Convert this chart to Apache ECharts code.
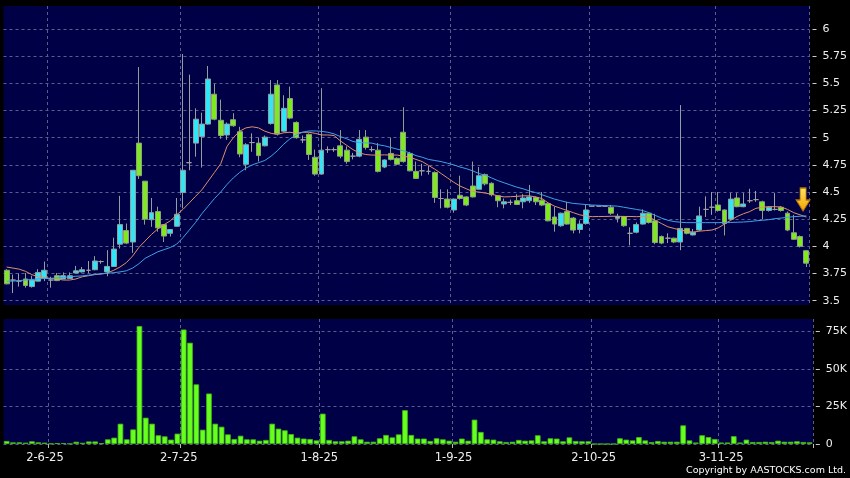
<!DOCTYPE html>
<html>
<head>
<meta charset="utf-8">
<script src="https://cdn.jsdelivr.net/npm/echarts@6/dist/echarts.min.js"></script>
<style>html,body{margin:0;padding:0;background:#000;}#c{width:850px;height:478px;}</style>
</head>
<body>
<div id="c"></div>
<script>
// trading days (day numbers per month, 2025)
const daysByMonth = [
  [5,  [22,23,26,27,28,29,30]],
  [6,  [2,3,4,5,6,9,10,11,12,13,16,17,18,19,20,23,24,25,26,27,30]],
  [7,  [2,3,4,7,8,9,10,11,14,15,16,17,18,21,22,23,24,25,28,29,30,31]],
  [8,  [1,4,5,6,7,8,11,12,13,14,15,18,19,20,21,22,25,26,27,28,29]],
  [9,  [1,2,3,4,5,8,9,10,11,12,15,16,17,18,19,22,23,24,25,26,29,30]],
  [10, [2,3,6,8,9,10,13,14,15,16,17,20,21,22,23,24,27,28,30,31]],
  [11, [3,4,5,6,7,10,11,12,13,14,17,18,19,20,21]]
];
const dates = [];
daysByMonth.forEach(([m, ds]) => ds.forEach(d => dates.push(d + '-' + m + '-25')));

const tickLabels = ['2-6-25','2-7-25','1-8-25','1-9-25','2-10-25','3-11-25'];
const priceTicks = [3.5,3.75,4,4.25,4.5,4.75,5,5.25,5.5,5.75,6];
const volumeTicks = [0,25000,50000,75000];

const open = [3.78,3.69,3.68,3.70,3.63,3.68,3.705,3.69,3.73,3.70,3.705,3.755,3.765,3.78,3.785,3.86,3.765,3.815,4.02,4.145,
4.04,4.95,4.60,4.245,4.32,4.20,4.12,4.185,4.495,4.77,4.95,5.01,5.125,5.40,5.16,5.025,5.165,5.055,4.755,4.955,
4.95,4.925,5.13,5.485,5.06,5.36,5.14,4.98,5.03,4.82,4.665,4.89,4.89,4.925,4.885,4.83,4.83,5.005,4.89,4.885,
4.73,4.855,4.81,5.05,4.855,4.69,4.695,4.69,4.68,4.44,4.435,4.335,4.47,4.455,4.555,4.525,4.66,4.58,4.465,4.39,
4.405,4.42,4.41,4.42,4.45,4.425,4.395,4.27,4.19,4.32,4.26,4.155,4.21,4.37,4.37,4.37,4.36,4.258,4.275,4.12,
4.13,4.205,4.305,4.235,4.09,4.075,4.075,4.04,4.165,4.105,4.15,4.34,4.36,4.38,4.335,4.25,4.445,4.365,4.42,4.43,
4.41,4.33,4.34,4.36,4.305,4.125,4.09,3.96];
const close = [3.655,3.69,3.68,3.64,3.69,3.76,3.78,3.69,3.685,3.73,3.73,3.775,3.785,3.78,3.865,3.86,3.815,3.975,4.20,4.03,
4.70,4.65,4.25,4.31,4.17,4.095,4.155,4.295,4.70,4.77,5.17,5.125,5.54,5.17,5.02,5.125,5.11,4.85,4.935,4.955,
4.835,5.005,5.40,5.035,5.27,5.18,5.0,4.98,4.845,4.665,4.885,4.89,4.89,4.83,4.78,4.83,4.985,4.91,4.89,4.69,
4.795,4.80,4.755,4.78,4.695,4.625,4.695,4.69,4.45,4.44,4.36,4.435,4.44,4.38,4.455,4.65,4.575,4.475,4.42,4.41,
4.405,4.385,4.445,4.455,4.41,4.38,4.235,4.205,4.305,4.205,4.15,4.205,4.335,4.37,4.37,4.37,4.305,4.275,4.19,4.12,
4.20,4.305,4.22,4.035,4.03,4.075,4.04,4.165,4.12,4.13,4.28,4.34,4.36,4.33,4.21,4.435,4.365,4.39,4.42,4.43,
4.33,4.36,4.34,4.33,4.15,4.065,4.0,3.845];
const low = [3.65,3.57,3.63,3.62,3.62,3.68,3.68,3.62,3.68,3.70,3.70,3.75,3.76,3.755,3.78,3.84,3.725,3.81,3.98,4.02,
3.94,4.62,4.20,4.18,4.135,4.04,4.09,4.18,4.35,4.70,4.825,4.725,5.12,5.16,4.99,4.98,5.10,4.82,4.70,4.87,
4.78,4.92,5.12,5.02,5.05,5.17,4.99,4.95,4.795,4.65,4.66,4.86,4.87,4.81,4.76,4.80,4.82,4.89,4.87,4.68,
4.72,4.79,4.75,4.77,4.69,4.62,4.65,4.66,4.40,4.35,4.35,4.31,4.43,4.37,4.45,4.52,4.56,4.46,4.36,4.35,
4.38,4.38,4.35,4.40,4.38,4.37,4.23,4.135,4.18,4.20,4.12,4.12,4.20,4.37,4.37,4.37,4.29,4.22,4.18,4.01,
4.12,4.20,4.21,4.02,4.02,4.03,4.03,3.965,4.11,4.10,4.14,4.27,4.29,4.32,4.10,4.24,4.36,4.36,4.40,4.41,
4.25,4.32,4.33,4.32,4.14,4.06,3.99,3.81];
const high = [3.79,3.74,3.75,3.755,3.73,3.79,3.86,3.72,3.755,3.76,3.76,3.82,3.81,3.865,3.91,3.87,3.965,4.08,4.465,4.21,
4.70,5.65,4.60,4.445,4.365,4.20,4.16,4.445,5.77,5.58,5.27,5.23,5.66,5.495,5.35,5.14,5.225,5.10,4.95,5.04,
5.00,5.02,5.53,5.53,5.39,5.47,5.15,5.02,5.04,4.89,5.455,4.92,4.91,5.07,4.92,4.86,5.07,5.07,4.92,4.95,
4.80,5.00,4.82,5.28,4.87,4.78,4.76,4.74,4.69,4.525,4.525,4.44,4.65,4.46,4.78,4.73,4.67,4.59,4.47,4.44,
4.43,4.48,4.48,4.565,4.46,4.50,4.40,4.365,4.31,4.41,4.27,4.24,4.38,4.37,4.37,4.37,4.38,4.30,4.28,4.175,
4.22,4.34,4.31,4.30,4.10,4.12,4.08,5.30,4.17,4.16,4.365,4.46,4.50,4.50,4.34,4.49,4.49,4.49,4.53,4.51,
4.42,4.37,4.49,4.37,4.32,4.29,4.10,3.965];
const volume = [2000,1100,1100,900,1800,1100,900,300,600,600,200,1500,800,1700,1700,500,3100,4200,13500,3100,
9700,78500,17500,13500,5800,5100,2900,6900,76200,67400,39700,9500,33600,13500,11500,6400,3300,5500,3100,3100,
2200,2700,13500,10200,9100,6600,4200,3600,3300,2400,20200,2700,1800,1800,2200,5100,3100,1500,1500,3800,
6000,4400,6400,22500,6000,3600,3600,2000,3800,3100,2200,1500,3600,2200,16200,8000,3100,2900,1800,1300,
1500,2700,2200,2400,5800,1800,3800,3600,1800,4400,2000,1800,1800,0,0,0,0,3800,2900,2400,
4600,2400,1300,2000,1500,1500,1500,12400,2400,1000,5800,4600,3300,1000,1000,5200,1000,2900,1300,1300,
1500,1300,2200,1500,1500,1800,1300,1100];
const maShort = [3.81,3.80,3.79,3.77,3.74,3.72,3.71,3.705,3.70,3.69,3.69,3.70,3.72,3.73,3.74,3.745,3.755,3.78,3.81,3.85,
3.91,3.99,4.05,4.11,4.16,4.20,4.235,4.29,4.34,4.40,4.46,4.52,4.60,4.68,4.76,4.92,5.00,5.06,5.09,5.10,
5.09,5.06,5.04,5.03,5.045,5.05,5.04,5.05,5.05,5.04,5.025,5.025,5.02,4.97,4.93,4.89,4.86,4.845,4.84,4.84,
4.842,4.84,4.84,4.83,4.82,4.80,4.78,4.745,4.71,4.67,4.63,4.59,4.555,4.53,4.505,4.50,4.49,4.48,4.465,4.455,
4.457,4.46,4.465,4.465,4.455,4.44,4.40,4.37,4.35,4.33,4.31,4.29,4.28,4.273,4.275,4.275,4.277,4.277,4.275,4.275,
4.273,4.275,4.27,4.24,4.21,4.18,4.165,4.15,4.14,4.13,4.14,4.145,4.15,4.17,4.205,4.24,4.275,4.30,4.32,4.35,
4.36,4.365,4.365,4.362,4.34,4.31,4.29,4.27];
const maLong = [3.68,3.68,3.685,3.69,3.695,3.70,3.705,3.705,3.71,3.715,3.72,3.725,3.728,3.735,3.742,3.748,3.752,3.758,3.765,3.775,
3.80,3.84,3.89,3.92,3.95,3.97,3.99,4.02,4.08,4.15,4.22,4.30,4.37,4.44,4.50,4.57,4.63,4.68,4.72,4.75,
4.77,4.79,4.83,4.88,4.94,4.99,5.025,5.05,5.062,5.062,5.058,5.05,5.035,5.01,4.99,4.965,4.955,4.952,4.95,4.935,
4.925,4.91,4.895,4.88,4.86,4.835,4.82,4.80,4.79,4.78,4.765,4.75,4.73,4.715,4.695,4.67,4.655,4.63,4.605,4.585,
4.565,4.545,4.53,4.51,4.495,4.475,4.455,4.435,4.42,4.405,4.395,4.39,4.385,4.38,4.378,4.375,4.373,4.37,4.36,4.35,
4.34,4.33,4.31,4.285,4.26,4.24,4.228,4.222,4.218,4.218,4.218,4.218,4.218,4.218,4.22,4.22,4.222,4.224,4.228,4.235,
4.24,4.245,4.255,4.26,4.268,4.273,4.277,4.28];

const isTick = (i, v) => tickLabels.indexOf(v) >= 0;
const gridLine = { show: true, lineStyle: { color: '#5c5c8e', type: [3, 3], width: 1 } };
const FONT = 'DejaVu Sans';
// small per-label nudges (right padding) to sit the date text where the original places it
const labelPad = [12, 10, 7, 4, 2, 0];
const rich = {};
labelPad.forEach((p, k) => { rich['l' + k] = { padding: [0, p, 0, 0], color: '#eeeeee', fontFamily: FONT, fontSize: 11.5 }; });

const chart = echarts.init(document.getElementById('c'), null, { renderer: 'canvas' });
chart.setOption({
  backgroundColor: '#000000',
  animation: false,
  grid: [
    { left: 3.5, right: 36, top: 6, height: 299, show: true, backgroundColor: '#000046', borderWidth: 0 },
    { left: 3.5, right: 36, top: 319, height: 125, show: true, backgroundColor: '#000046', borderWidth: 0 }
  ],
  xAxis: [
    { type: 'category', gridIndex: 0, data: dates, boundaryGap: true,
      axisLine: { show: false }, axisTick: { show: false }, axisLabel: { show: false },
      splitLine: Object.assign({ interval: isTick }, gridLine) },
    { type: 'category', gridIndex: 1, data: dates, boundaryGap: true,
      axisLine: { show: false },
      axisTick: { show: true, alignWithLabel: false, interval: isTick, length: 4, lineStyle: { color: '#bbbbbb' } },
      axisLabel: { interval: isTick, color: '#eeeeee', fontFamily: FONT, fontSize: 11.5, margin: 8, rich: rich,
        formatter: v => { const k = tickLabels.indexOf(v); return k >= 0 ? '{l' + k + '|' + v + '}' : v; } },
      splitLine: Object.assign({ interval: isTick }, gridLine) }
  ],
  yAxis: [
    { type: 'value', gridIndex: 0, position: 'right', offset: 3, min: 3.4604, max: 6.2116,
      axisLine: { show: false },
      axisTick: { show: true, length: 4, customValues: priceTicks, lineStyle: { color: '#cccccc' } },
      axisLabel: { customValues: priceTicks, color: '#eeeeee', fontFamily: FONT, fontSize: 11, margin: 10 },
      splitLine: gridLine },
    { type: 'value', gridIndex: 1, position: 'right', offset: 3, min: 0, max: 83200,
      axisLine: { show: false },
      axisTick: { show: true, length: 4, customValues: volumeTicks, lineStyle: { color: '#cccccc' } },
      axisLabel: { customValues: volumeTicks, color: '#eeeeee', fontFamily: FONT, fontSize: 11, margin: 10,
        formatter: v => v === 0 ? '0' : (v / 1000) + 'K' },
      splitLine: gridLine }
  ],
  series: [
    { type: 'candlestick', xAxisIndex: 0, yAxisIndex: 0, barWidth: 5.4,
      data: open.map((o, i) => [o, close[i], low[i], high[i]]),
      itemStyle: { color: '#30e6f6', color0: '#7eea1e', borderColor: '#8fa0a0', borderColor0: '#8fa08a',
        borderColorDoji: '#a0a0a0', borderWidth: 1 },
      markPoint: {
        silent: true,
        data: [{ coord: [dates[126], 4.431], symbol: 'path://M4,0 L10,0 L10,12 L14,12 L7,23 L0,12 L4,12 Z',
          symbolSize: [14, 23], symbolOffset: [3, 0],
          itemStyle: { color: { type: 'linear', x: 0, y: 0, x2: 0, y2: 1,
            colorStops: [{ offset: 0, color: '#ffe860' }, { offset: 1, color: '#f0a000' }] },
            borderColor: '#b87000', borderWidth: 1 },
          label: { show: false } }]
      } },
    { type: 'line', xAxisIndex: 0, yAxisIndex: 0, data: maShort, symbol: 'none', z: 3,
      lineStyle: { color: '#e0906a', width: 1 } },
    { type: 'line', xAxisIndex: 0, yAxisIndex: 0, data: maLong, symbol: 'none', z: 3,
      lineStyle: { color: '#3fa2e6', width: 1 } },
    { type: 'bar', xAxisIndex: 1, yAxisIndex: 1, data: volume, barWidth: 5.6,
      itemStyle: { color: '#66ff1e', borderColor: '#44b814', borderWidth: 0.8 } }
  ],
  graphic: [
    { type: 'text', right: 4, top: 466, style: { text: 'Copyright by AASTOCKS.com Ltd.', fill: '#ffffff',
      font: '9.5px "DejaVu Sans"' } }
  ]
});
</script>
</body>
</html>
